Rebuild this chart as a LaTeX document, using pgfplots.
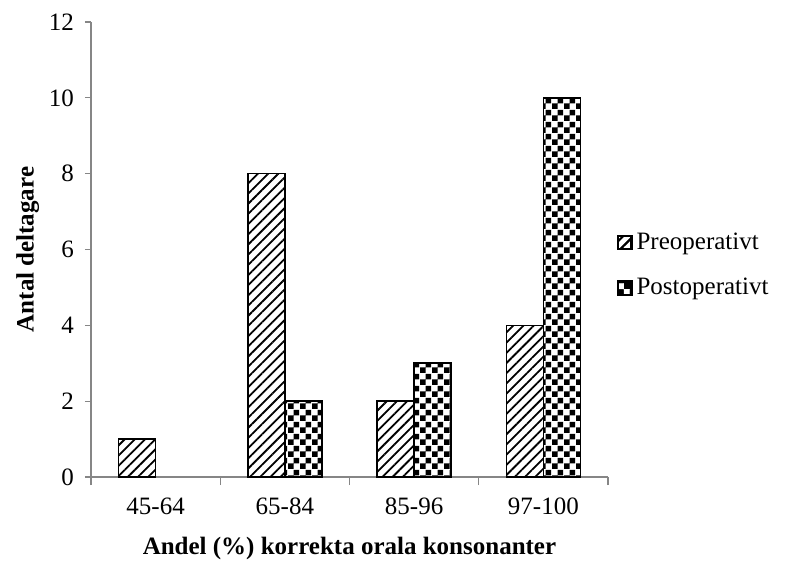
\documentclass[border=0pt]{standalone}
\usepackage{pgfplots}
\pgfplotsset{compat=1.18}
\usepackage{fontspec}
\setmainfont{Liberation Serif}
\usetikzlibrary{patterns,patterns.meta}
\pgfdeclarepatternformonly{mycheck}{\pgfpointorigin}{\pgfqpoint{6pt}{6pt}}{\pgfqpoint{6pt}{6pt}}{%
  \pgfpathrectangle{\pgfpointorigin}{\pgfqpoint{3pt}{3pt}}%
  \pgfpathrectangle{\pgfqpoint{3pt}{3pt}}{\pgfqpoint{3pt}{3pt}}%
  \pgfusepath{fill}}
\definecolor{axgray}{RGB}{134,134,134}
\begin{document}
\begin{tikzpicture}
\path[use as bounding box] (-45.5pt,-43.5pt) rectangle (356pt,238.5pt);
\begin{axis}[
  scale only axis,
  width=258.5pt, height=227.5pt,
  at={(0,0)}, anchor=south west,
  xmin=-0.5, xmax=3.5,
  ymin=0, ymax=12,
  ytick={0,2,...,12},
  xtick={0,1,2,3},
  xticklabels={45-64,65-84,85-96,97-100},
  minor xtick={-0.5,0.5,1.5,2.5,3.5},
  major x tick style={draw=none},
  minor tick length=4pt,
  major tick length=3pt,
  tick align=outside,
  axis lines*=left,
  axis line style={axgray, line width=0.6pt},
  tick style={axgray, line width=0.6pt},
  every tick label/.append style={font=\fontsize{12.5}{14}\selectfont, text=black},
  xticklabel style={yshift=-4pt},
  yticklabel style={xshift=-2pt},
  /pgf/number format/assume math mode=true,
  xlabel={\textbf{Andel (\%) korrekta orala konsonanter}},
  ylabel={\textbf{Antal deltagare}},
  label style={font=\fontsize{12.5}{14}\selectfont},
  xlabel style={yshift=-4pt},
  ylabel style={yshift=-2pt},
  ybar=0pt,
  bar width=18.5pt,
  legend style={at={(1.005,0.465)}, anchor=west, draw=none, fill=none,
    font=\fontsize{12.5}{14}\selectfont, row sep=9pt, cells={anchor=west}},
  legend cell align=left,
  legend image code/.code={%
    \path[use as bounding box] (0pt,-3.5pt) rectangle (7pt,3.5pt);
    \draw[#1, line width=0.5pt] (0.5pt,-3pt) rectangle (6.5pt,3pt);},
]
\addplot[draw=black, line width=0.8pt, pattern={Lines[angle=45, distance=3.6pt, line width=0.9pt]}]
  coordinates {(0,1) (1,8) (2,2) (3,4)};
\addplot[draw=black, line width=0.8pt, pattern=mycheck]
  coordinates {(1,2) (2,3) (3,10)};
\legend{Preoperativt, Postoperativt}
\end{axis}
\end{tikzpicture}
\end{document}
